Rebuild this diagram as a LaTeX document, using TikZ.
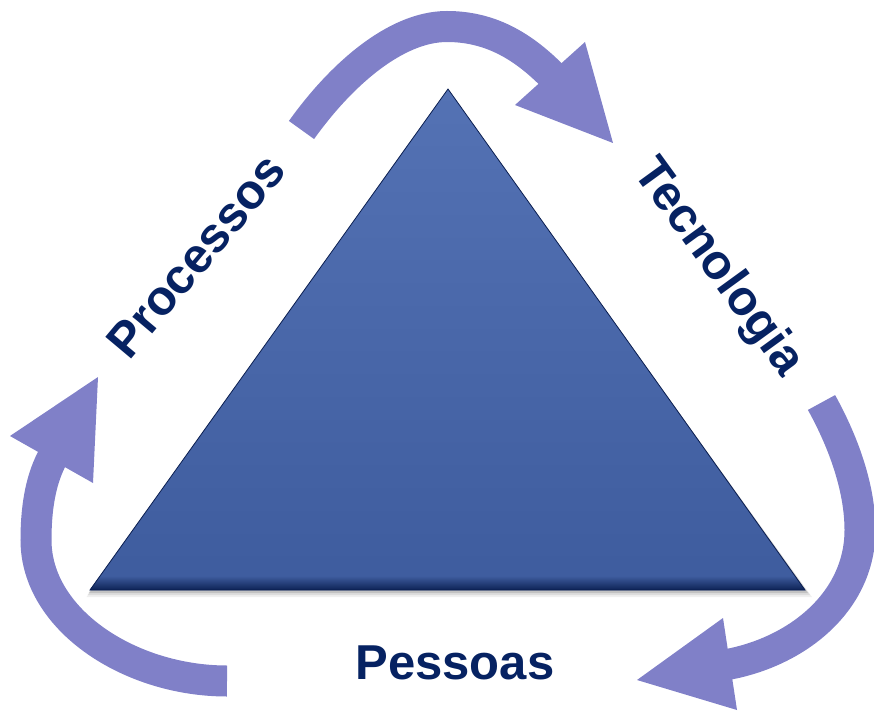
\documentclass[tikz,border=0pt]{standalone}
\usepackage{fontspec}
\setmainfont{Liberation Sans}
\usetikzlibrary{calc}
\definecolor{arrowc}{RGB}{128,128,200}
\definecolor{navytxt}{RGB}{6,34,98}
\definecolor{tritop}{RGB}{84,114,180}
\definecolor{tribot}{RGB}{62,92,158}
\definecolor{triedge}{RGB}{10,30,80}
\tikzset{
  shaft/.style={draw=arrowc, line width=31bp, line cap=butt},
  head/.style={fill=arrowc, draw=none},
  label/.style={text=navytxt, font=\fontsize{49bp}{58bp}\selectfont\bfseries, inner sep=0pt}
}
\begin{document}
\begin{tikzpicture}[x=1bp,y=-1bp]
\useasboundingbox (0,0) rectangle (874,711);
% triangle corners
\coordinate (apex) at (448,89);
\coordinate (bl) at (90,590);
\coordinate (br) at (805,590);
% shadow
\foreach \o/\a in {7/0.06,5/0.08,3/0.12} {
  \fill[black,opacity=\a] ($(apex)+(2,\o)$) -- ($(bl)+(-\o/2,\o)$) -- ($(br)+(\o,\o)$) -- cycle;
}
% triangle body
\shade[top color=tritop, bottom color=tribot] (apex) -- (bl) -- (br) -- cycle;
\begin{scope}
  \clip (apex) -- (bl) -- (br) -- cycle;
  \shade[top color=tribot, bottom color=triedge] (80,576) rectangle (820,591);
\end{scope}
\draw[triedge, line width=0.8bp, line join=miter] (apex) -- (bl) -- (br) -- cycle;

% top arrow
\coordinate (t0) at (301.5,130);
\coordinate (t1) at (447,26.5);
\coordinate (t2) at (550,73.5);
\coordinate (t3) at (558,82.5);
\coordinate (ta) at (515,105);
\coordinate (tb) at (585,42);
\coordinate (tt) at (613,143);
\draw[shaft] (t0) .. controls (340,76) and (395,26.5) .. (t1) .. controls (490,26.5) and (522,46) .. (t2) -- (t3);
\fill[head] (ta) -- (tb) -- (tt) -- cycle;

% right arrow
\coordinate (r0) at (821.5,402.5);
\coordinate (r1) at (860,530);
\coordinate (r2) at (730,664);
\coordinate (r3) at (720,665.7);
\coordinate (ra) at (723,618);
\coordinate (rb) at (737,710);
\coordinate (rt) at (637,680);
\draw[shaft] (r0) .. controls (845,445) and (860,490) .. (r1) .. controls (860,600) and (800,650) .. (r2) -- (r3);
\fill[head] (ra) -- (rb) -- (rt) -- cycle;

% left arrow
\coordinate (l0) at (227,681);
\coordinate (l1) at (36,540);
\coordinate (l2) at (51.5,459.5);
\coordinate (l3) at (56,451.5);
\coordinate (la) at (10,436);
\coordinate (lb) at (93,483);
\coordinate (lt) at (98,377);
\draw[shaft] (l0) .. controls (130,681) and (36,620) .. (l1) .. controls (36,510) and (40,482) .. (l2) -- (l3);
\fill[head] (la) -- (lb) -- (lt) -- cycle;

% labels
\node[label, rotate=50] (processos) at (196,256) {Processos};
\node[label, rotate=-54] (tecnologia) at (718,268) {Tecnologia};
\node[label] (pessoas) at (455,663) {Pessoas};
\end{tikzpicture}
\end{document}
